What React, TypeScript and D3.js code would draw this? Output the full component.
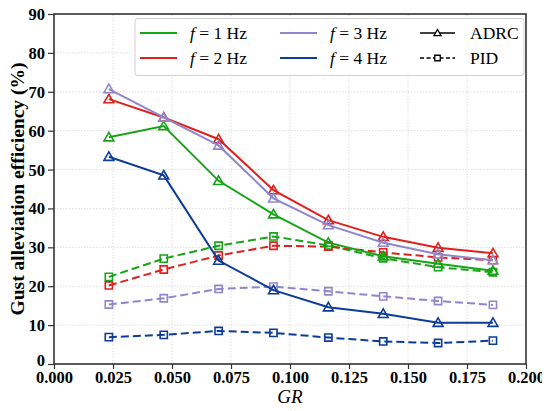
import * as d3 from 'd3';
import { useEffect, useRef } from 'react';

const gr = [0.02325, 0.0465, 0.06975, 0.093, 0.11625, 0.1395, 0.16275, 0.186];
const freqs = ['1', '2', '3', '4'];
const colors = ['#18a418', '#e0201c', '#8f86cc', '#0c3c98'];

const adrc = [
    [58.3, 61.2, 47.1, 38.5, 31.2, 27.7, 25.8, 24.0],
    [68.1, 63.4, 57.8, 44.7, 37.0, 32.7, 29.9, 28.5],
    [70.7, 63.4, 56.2, 42.6, 35.7, 31.2, 28.2, 26.7],
    [53.3, 48.5, 26.6, 19.0, 14.6, 12.9, 10.6, 10.6],
];
const pid = [
    [22.4, 27.1, 30.4, 32.8, 30.5, 27.2, 24.9, 23.6],
    [20.2, 24.3, 27.9, 30.4, 30.2, 28.7, 27.4, 26.7],
    [15.3, 16.9, 19.3, 19.9, 18.7, 17.4, 16.2, 15.2],
    [6.9, 7.5, 8.5, 8.0, 6.8, 5.8, 5.4, 6.0],
];
const xTicks = [0, 0.025, 0.05, 0.075, 0.1, 0.125, 0.15, 0.175, 0.2];
const yTicks = [0, 10, 20, 30, 40, 50, 60, 70, 80, 90];

export default function App() {
    const chartRef = useRef<SVGSVGElement | null>(null);

    useEffect(() => {
        if (!chartRef.current) return;
        const svg = d3.select(chartRef.current);
        svg.selectAll('*').remove();

        const width = 550;
        const height = 411;
        const margin = { top: 14, right: 24, bottom: 47, left: 54 };
        const font = "'Liberation Serif', 'Times New Roman', serif";

        const x = d3.scaleLinear().domain([0, 0.2]).range([margin.left, width - margin.right]);
        const y = d3.scaleLinear().domain([0, 90]).range([height - margin.bottom, margin.top]);

        svg.attr('viewBox', `0 0 ${width} ${height}`).attr('font-family', font);

        // 格線
        const grid = svg.append('g').attr('stroke', '#d6d6d6').attr('stroke-width', 0.8).attr('stroke-dasharray', '1.5,1.5');
        grid.selectAll('.gx')
            .data(xTicks.slice(1, -1))
            .join('line')
            .attr('x1', (d) => x(d))
            .attr('x2', (d) => x(d))
            .attr('y1', y(0))
            .attr('y2', y(90));
        grid.selectAll('.gy')
            .data(yTicks.slice(1, -1))
            .join('line')
            .attr('x1', x(0))
            .attr('x2', x(0.2))
            .attr('y1', (d) => y(d))
            .attr('y2', (d) => y(d));

        // 軸
        const xAxis = d3.axisBottom(x).tickValues(xTicks).tickFormat(d3.format('.3f')).tickSizeInner(5).tickSizeOuter(0);
        svg.append('g')
            .attr('transform', `translate(0,${y(0)})`)
            .call(xAxis)
            .attr('font-family', font)
            .attr('font-size', 16.5)
            .attr('font-weight', 'bold')
            .call((g) => g.select('.domain').remove())
            .call((g) => g.selectAll('line').attr('stroke', '#333').attr('stroke-width', 1.2))
            .selectAll('text')
            .attr('fill', '#000')
            .attr('y', 7)
            .attr('dy', '0.72em');

        const yAxis = d3.axisLeft(y).tickValues(yTicks).tickFormat(d3.format('d')).tickSizeInner(6).tickSizeOuter(0);
        svg.append('g')
            .attr('transform', `translate(${x(0)},0)`)
            .call(yAxis)
            .attr('font-family', font)
            .attr('font-size', 16.5)
            .attr('font-weight', 'bold')
            .call((g) => g.select('.domain').remove())
            .call((g) => g.selectAll('line').attr('stroke', '#333').attr('stroke-width', 1.2))
            .selectAll('text')
            .attr('fill', '#000')
            .attr('x', -9)
            .attr('dy', (d) => (d === 0 ? '0.12em' : '0.33em'));

        // 外框
        svg.append('rect')
            .attr('x', x(0))
            .attr('y', y(90))
            .attr('width', x(0.2) - x(0))
            .attr('height', y(0) - y(90))
            .attr('fill', 'none')
            .attr('stroke', '#333')
            .attr('stroke-width', 1.6);

        // 軸標籤
        svg.append('text')
            .attr('x', (x(0) + x(0.2)) / 2)
            .attr('y', height - 8)
            .attr('text-anchor', 'middle')
            .attr('font-size', 19)
            .attr('font-style', 'italic')
            .text('GR');
        svg.append('text')
            .attr('transform', `translate(23.5,${(y(0) + y(90)) / 2}) rotate(-90)`)
            .attr('text-anchor', 'middle')
            .attr('font-size', 19.5)
            .attr('font-weight', 'bold')
            .text('Gust alleviation efficiency (%)');

        const line = d3
            .line<number>()
            .x((_, i) => x(gr[i]))
            .y((d) => y(d));
        const tri = d3.symbol().type(d3.symbolTriangle).size(42);
        const sq = d3.symbol().type(d3.symbolSquare).size(52);

        const drawSeries = (vals: number[], color: string, dashed: boolean) => {
            const g = svg.append('g');
            g.append('path')
                .attr('d', line(vals))
                .attr('fill', 'none')
                .attr('stroke', color)
                .attr('stroke-width', 2)
                .attr('stroke-dasharray', dashed ? '8,4' : null);
            g.selectAll('path.m')
                .data(vals)
                .join('path')
                .attr('class', 'm')
                .attr('transform', (d, i) => `translate(${x(gr[i])},${y(d) + (dashed ? 0 : 0.8)})`)
                .attr('d', dashed ? sq()! : tri()!)
                .attr('fill', 'none')
                .attr('stroke', color)
                .attr('stroke-width', 1.6);
        };

        pid.forEach((vals, i) => drawSeries(vals, colors[i], true));
        adrc.forEach((vals, i) => drawSeries(vals, colors[i], false));

        // 圖例
        const lg = svg.append('g');
        lg.append('rect')
            .attr('x', 135)
            .attr('y', 18.5)
            .attr('width', 389)
            .attr('height', 57)
            .attr('rx', 3)
            .attr('fill', 'white')
            .attr('fill-opacity', 0.85)
            .attr('stroke', '#d0d0d0');
        const rows = [33, 58];
        freqs.forEach((f, i) => {
            const cx = i < 2 ? 140 : 280;
            const cy = rows[i % 2];
            lg.append('line')
                .attr('x1', cx)
                .attr('x2', cx + 37)
                .attr('y1', cy)
                .attr('y2', cy)
                .attr('stroke', colors[i])
                .attr('stroke-width', 2);
            const t = lg.append('text')
                .attr('x', cx + 50)
                .attr('y', cy)
                .attr('dy', '0.35em')
                .attr('font-size', 17.5);
            t.append('tspan').attr('font-style', 'italic').text('f');
            t.append('tspan').text(` = ${f} Hz`);
        });
        const methods = ['ADRC', 'PID'];
        methods.forEach((m, i) => {
            const cy = rows[i];
            lg.append('line')
                .attr('x1', 420)
                .attr('x2', 455)
                .attr('y1', cy)
                .attr('y2', cy)
                .attr('stroke', '#000')
                .attr('stroke-width', 1.5)
                .attr('stroke-dasharray', i === 0 ? null : '4,2.5');
            lg.append('path')
                .attr('transform', `translate(437.5,${cy + (i === 0 ? 0.6 : 0)})`)
                .attr('d', i === 0 ? d3.symbol().type(d3.symbolTriangle).size(22)()! : d3.symbol().type(d3.symbolSquare).size(30)()!)
                .attr('fill', 'white')
                .attr('stroke', '#000')
                .attr('stroke-width', 1.3);
            lg.append('text')
                .attr('x', 470)
                .attr('y', cy)
                .attr('dy', '0.35em')
                .attr('font-size', 17.5)
                .text(m);
        });
    }, []);

    return <svg ref={chartRef} width={550} height={411} style={{ display: 'block', margin: '-8px' }} />;
}
